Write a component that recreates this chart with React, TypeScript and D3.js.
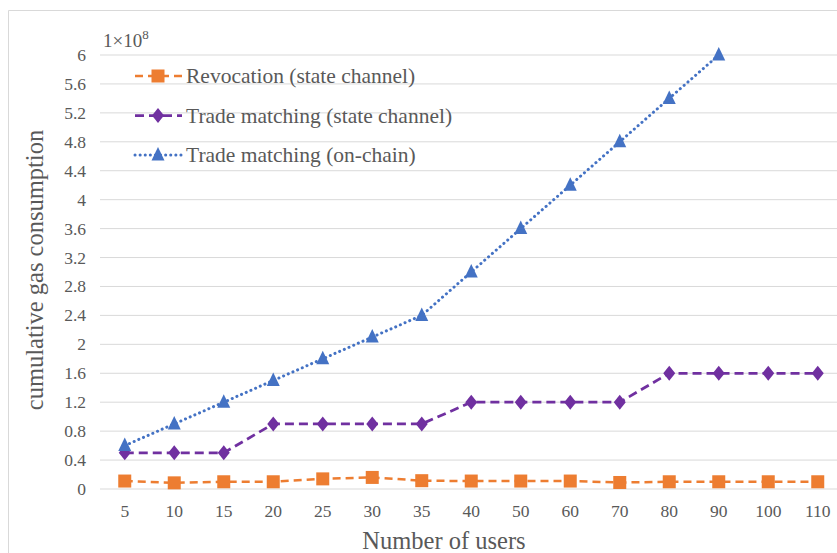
import React from "react";
import * as d3 from "d3";

const categories = ["5", "10", "15", "20", "25", "30", "35", "40", "50", "60", "70", "80", "90", "100", "110"];
const revocation = [0.11, 0.085, 0.1, 0.1, 0.14, 0.16, 0.115, 0.11, 0.11, 0.11, 0.09, 0.1, 0.1, 0.1, 0.1];
const tradeChannel = [0.5, 0.5, 0.5, 0.9, 0.9, 0.9, 0.9, 1.2, 1.2, 1.2, 1.2, 1.6, 1.6, 1.6, 1.6];
const tradeOnChain = [0.6, 0.9, 1.2, 1.5, 1.8, 2.1, 2.4, 3.0, 3.6, 4.2, 4.8, 5.4, 6.0];
const yTicks = [0, 0.4, 0.8, 1.2, 1.6, 2, 2.4, 2.8, 3.2, 3.6, 4, 4.4, 4.8, 5.2, 5.6, 6];
const seriesNames = ["Revocation (state channel)", "Trade matching (state channel)", "Trade matching (on-chain)"];

const W = 837, H = 553;
const FONT = "Liberation Serif, Times New Roman, DejaVu Serif, serif";
const TXT = "#595959";

const x = d3.scaleBand<string>().domain(categories).range([100, 100 + 49.5 * 15]);
const y = d3.scaleLinear().domain([0, 6]).range([489, 55]);
const cx = (c: string) => (x(c) as number) + x.bandwidth() / 2;

function Marker({ kind, px, py }: { kind: string; px: number; py: number }) {
  if (kind === "square") return <rect x={px - 6.5} y={py - 6.5} width={13} height={13} fill="#ED7D31" />;
  if (kind === "diamond") return <path d={`M${px},${py - 7.5}L${px + 6},${py}L${px},${py + 7.5}L${px - 6},${py}Z`} fill="#7030A0" />;
  return <path d={`M${px},${py - 8}L${px + 6.5},${py + 5.5}L${px - 6.5},${py + 5.5}Z`} fill="#4472C4" />;
}

const series = [
  { name: seriesNames[0], data: revocation, color: "#ED7D31", dash: "8,5", width: 2.5, kind: "square", cap: "butt" },
  { name: seriesNames[1], data: tradeChannel, color: "#7030A0", dash: "9,5", width: 2.75, kind: "diamond", cap: "butt" },
  { name: seriesNames[2], data: tradeOnChain, color: "#4472C4", dash: "0.1,5", width: 3, kind: "triangle", cap: "round" },
];

export default function App() {
  const line = d3.line<[number, number]>().x((d) => d[0]).y((d) => d[1]);
  return (
    <svg width={W} height={H} style={{ position: "absolute", left: 0, top: 0, fontFamily: FONT }}>
      <rect x={0} y={0} width={W} height={H} fill="#fff" />
      <path d={`M8.5,${H}V10.5H${W}`} fill="none" stroke="#d9d9d9" strokeWidth={1} />
      {yTicks.map((t) => (
        <g key={t}>
          <line x1={100} x2={W} y1={y(t)} y2={y(t)} stroke="#d9d9d9" strokeWidth={1} />
          <text x={86} y={y(t) + 6} textAnchor="end" style={{ fontFamily: FONT }} fontSize={17.5} fill={TXT}>{String(t)}</text>
        </g>
      ))}
      {categories.map((c) => (
        <text key={c} x={cx(c)} y={517} textAnchor="middle" style={{ fontFamily: FONT }} fontSize={17.5} fill={TXT}>{c}</text>
      ))}
      <text x={103} y={47} style={{ fontFamily: FONT }} fontSize={19} fill={TXT}>1×10<tspan dy={-8} fontSize={13}>8</tspan></text>
      <text x={444} y={549} textAnchor="middle" style={{ fontFamily: FONT }} fontSize={24.5} fill={TXT}>Number of users</text>
      <text transform="translate(43,270) rotate(-90)" textAnchor="middle" style={{ fontFamily: FONT }} fontSize={24.5} fill={TXT}>cumulative gas consumption</text>
      {series.map((s) => {
        const pts = s.data.map((v, i) => [cx(categories[i]), y(v)] as [number, number]);
        return (
          <g key={s.name}>
            <path d={line(pts) || ""} fill="none" stroke={s.color} strokeWidth={s.width} strokeDasharray={s.dash} strokeLinecap={s.cap as any} />
            {pts.map((p, i) => <Marker key={i} kind={s.kind} px={p[0]} py={p[1]} />)}
          </g>
        );
      })}
      {series.map((s, i) => {
        const ly = 76 + i * 39.5;
        return (
          <g key={"lg" + i}>
            <line x1={135} x2={182} y1={ly} y2={ly} stroke={s.color} strokeWidth={s.width} strokeDasharray={s.dash} strokeLinecap={s.cap as any} />
            <Marker kind={s.kind} px={158} py={ly} />
            <text x={186} y={ly + 7} style={{ fontFamily: FONT }} fontSize={21.5} fill={TXT}>{s.name}</text>
          </g>
        );
      })}
    </svg>
  );
}
